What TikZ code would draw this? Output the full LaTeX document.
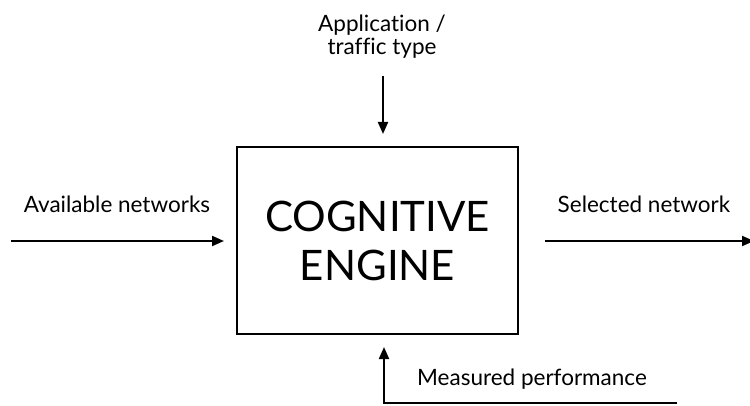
\documentclass[tikz,border=0pt]{standalone}
\usepackage{fontspec}
\setmainfont[Ligatures=NoCommon]{Lato}
\usetikzlibrary{arrows.meta}
\begin{document}
\begin{tikzpicture}[x=1pt,y=-1pt,
  lbl/.style={font=\fontsize{22.5}{23}\selectfont, inner sep=0pt, align=center},
  flow/.style={line width=2pt, -{Triangle[length=12pt,width=10pt]}},
  enginebox/.style={draw, line width=1.2pt, minimum width=281pt, minimum height=187pt, inner sep=0pt,
    font=\fontsize{42}{49}\selectfont, align=center}]
\useasboundingbox (0,0) rectangle (750,406);
\node[enginebox] (engine) at (377.5,240.5) {COGNITIVE\\ENGINE};
\node[lbl, anchor=base] (avail) at (117,213) {Available networks};
\node[lbl, anchor=base] (sel) at (644,213) {Selected network};
\node[lbl, anchor=base] (app) at (382,55) {Application /\\traffic type};
\node[lbl, anchor=base] (meas) at (532,385) {Measured performance};
\coordinate (inL) at (11,241);
\coordinate (inR) at (224,241);
\coordinate (outL) at (545,241);
\coordinate (outR) at (754,241);
\coordinate (appS) at (383,76);
\coordinate (appE) at (383,134);
\coordinate (fbS) at (677,403);
\coordinate (fbC) at (384,403);
\coordinate (fbE) at (384,347);
\draw[flow] (inL) -- (inR);
\draw[flow] (outL) -- (outR);
\draw[flow] (appS) -- (appE);
\draw[flow] (fbS) -- (fbC) -- (fbE);
\end{tikzpicture}
\end{document}
